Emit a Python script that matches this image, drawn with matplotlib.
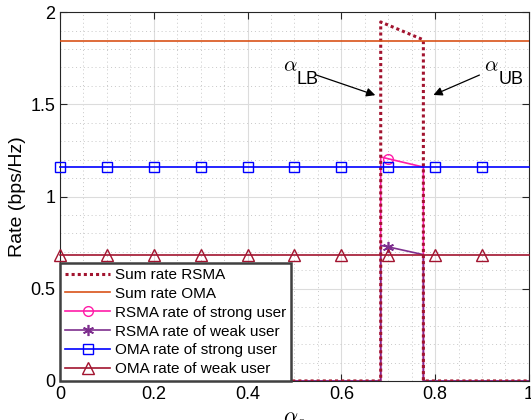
import matplotlib
matplotlib.use('Agg')
import matplotlib.pyplot as plt
from matplotlib.ticker import MultipleLocator

# values
alpha_rsma = [0, 0.684, 0.684, 0.70, 0.775, 0.775, 1.0]
sum_rsma = [0, 0, 1.947, 1.93, 1.85, 0, 0]
strong_rsma = [0, 0, 1.215, 1.205, 1.16, 0, 0]
weak_rsma = [0, 0, 0.735, 0.727, 0.685, 0, 0]

alpha_oma = [0, 0.1, 0.2, 0.3, 0.4, 0.5, 0.6, 0.7, 0.8, 0.9, 1.0]
sum_oma = [1.845] * 11
strong_oma = [1.16] * 11
weak_oma = [0.685] * 11

xticks = [0, 0.2, 0.4, 0.6, 0.8, 1]
xlabels = ['0', '0.2', '0.4', '0.6', '0.8', '1']
yticks = [0, 0.5, 1, 1.5, 2]
ylabels = ['0', '0.5', '1', '1.5', '2']

plt.rcParams['font.family'] = 'Liberation Sans'
plt.rcParams['mathtext.fontset'] = 'cm'

fig = plt.figure(figsize=(5.31, 4.2), dpi=100)
ax = fig.add_axes([0.113, 0.093, 0.883, 0.878])

ax.plot(alpha_rsma, sum_rsma, color='#A2142F', linestyle=(0, (1, 1)), lw=2.2,
        label='Sum rate RSMA', zorder=3)
ax.plot(alpha_oma, sum_oma, color='#D95319', lw=1.2, label='Sum rate OMA', zorder=3)
ax.plot(alpha_rsma, strong_rsma, color='#FF1CA8', lw=1.2, marker='o', markevery=[3],
        ms=7, mfc='none', mew=1.0, label='RSMA rate of strong user', zorder=2)
ax.plot(alpha_rsma, weak_rsma, color='#7E2F8E', lw=1.2, marker=(6, 2, 0), markevery=[3],
        ms=8, mfc='none', mew=1.2, label='RSMA rate of weak user', zorder=2)
ax.plot(alpha_oma, strong_oma, color='#0000FF', lw=1.2, marker='s', markevery=list(range(10)),
        ms=6.5, mfc='none', mew=1.0, label='OMA rate of strong user', clip_on=False, zorder=3)
ax.plot(alpha_oma, weak_oma, color='#A2142F', lw=1.2, marker='^', markevery=list(range(10)),
        ms=8, mfc='none', mew=1.0, label='OMA rate of weak user', clip_on=False, zorder=3)

ax.set_xlim(0, 1)
ax.set_ylim(0, 2)
ax.set_xticks(xticks)
ax.set_xticklabels(xlabels)
ax.set_yticks(yticks)
ax.set_yticklabels(ylabels)
ax.xaxis.set_minor_locator(MultipleLocator(0.05))
ax.yaxis.set_minor_locator(MultipleLocator(0.1))
ax.tick_params(which='both', direction='in', top=True, right=True, labelsize=13, color='#262626')
ax.tick_params(which='major', length=5)
ax.tick_params(which='minor', length=0)
ax.grid(which='major', color='#DCDCDC', lw=0.8)
ax.grid(which='minor', color='#C8C8C8', lw=0.7, linestyle=(0, (1, 3)))
ax.set_axisbelow(True)
for s in ax.spines.values():
    s.set_color('#262626')
    s.set_linewidth(0.8)

ax.set_ylabel('Rate (bps/Hz)', fontsize=14, labelpad=3)
ax.set_xlabel(r'$\alpha_{\rm o}$', fontsize=16, labelpad=4)

# annotations
ax.annotate('', xy=(0.678, 1.545), xytext=(0.54, 1.665),
            arrowprops=dict(arrowstyle='-|>', color='k', lw=0.9, mutation_scale=13))
ax.text(0.475, 1.66, r'$\alpha$', fontsize=15, ha='left', va='bottom')
ax.text(0.505, 1.59, 'LB', fontsize=13, ha='left', va='bottom')
ax.annotate('', xy=(0.791, 1.545), xytext=(0.9, 1.665),
            arrowprops=dict(arrowstyle='-|>', color='k', lw=0.9, mutation_scale=13))
ax.text(0.905, 1.66, r'$\alpha$', fontsize=15, ha='left', va='bottom')
ax.text(0.935, 1.59, 'UB', fontsize=13, ha='left', va='bottom')

leg = ax.legend(loc='lower left', bbox_to_anchor=(0, 0), borderaxespad=0, fontsize=11,
                handlelength=3.0, handletextpad=0.3, labelspacing=0.32, borderpad=0.3,
                fancybox=False, framealpha=1)
leg.get_frame().set_edgecolor('#404040')
leg.get_frame().set_linewidth(1.8)

fig.savefig('out.png', dpi=100)
